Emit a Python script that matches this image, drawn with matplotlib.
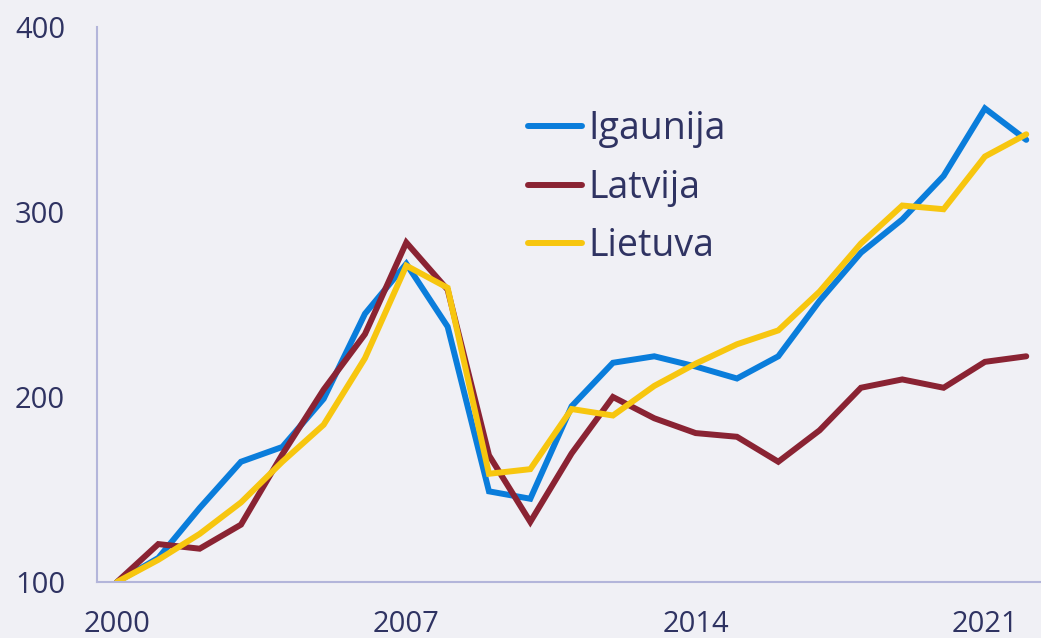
import matplotlib
matplotlib.use("Agg")
import matplotlib.pyplot as plt

years = list(range(2000, 2023))
igaunija = [100, 113, 140, 165, 173, 199, 245, 272, 238, 149, 145, 195, 218.5, 222, 216.5,
            210, 222, 252, 278, 296, 319.5, 356, 339]
latvija = [100, 120.5, 118, 131, 169, 204, 234, 283.5, 258, 168.5, 132.5, 169.5, 200, 188.5, 180.5,
           178.5, 165, 182, 205, 209.5, 205, 219, 222]
lietuva = [100, 112, 126, 143, 165, 185, 221, 271, 259, 158.5, 161, 193.5, 190, 206, 218,
           228.5, 236, 257, 283, 303.5, 301.5, 330, 342]
series_names = ["Igaunija", "Latvija", "Lietuva"]
colors = ["#0a7ddb", "#8a2333", "#f7c60f"]
xticks = [2000, 2007, 2014, 2021]
yticks = [100, 200, 300, 400]

bg = "#f0f0f5"
txt = "#2f3362"
spine = "#b3b5da"

plt.rcParams['font.family'] = ['Open Sans', 'DejaVu Sans']

fig = plt.figure(figsize=(10.41, 6.38), dpi=100, facecolor=bg)
ax = fig.add_axes([97/1041, 1 - 582/638, 1 - 97/1041, (582 - 27)/638])
ax.set_facecolor(bg)

for name, vals, c in zip(series_names, [igaunija, latvija, lietuva], colors):
    ax.plot(years, vals, color=c, lw=4.3, label=name, solid_capstyle='round',
            solid_joinstyle='miter')

ax.set_xlim(2000 - 20/41.33, 2000 + 924/41.33)
ax.set_ylim(100, 400)
ax.set_xticks(xticks)
ax.set_yticks(yticks)
ax.tick_params(length=0, labelsize=21, colors=txt)
ax.tick_params(axis='x', pad=20)
ax.tick_params(axis='y', pad=23)
for s in ['top', 'right']:
    ax.spines[s].set_visible(False)
for s in ['left', 'bottom']:
    ax.spines[s].set_color(spine)
    ax.spines[s].set_linewidth(1.5)

leg = fig.legend(loc='upper left', bbox_to_anchor=(528/1041, 1 - 110/638),
                 frameon=False, fontsize=27, handlelength=1.45, handletextpad=0.15,
                 labelspacing=0.55, borderpad=0, borderaxespad=0)
for t in leg.get_texts():
    t.set_color(txt)

fig.savefig("out.png", dpi=100, facecolor=bg)
